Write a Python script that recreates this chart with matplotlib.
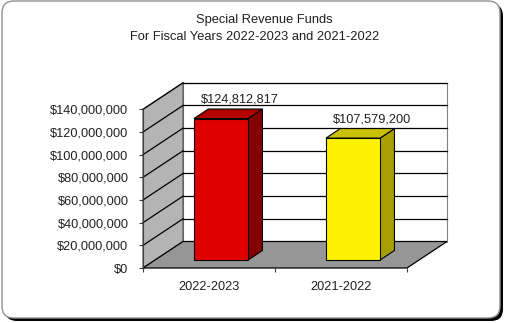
import numpy as np
import matplotlib
matplotlib.use("Agg")
import matplotlib.pyplot as plt
from matplotlib.patches import Polygon, FancyBboxPatch

plt.rcParams['font.family'] = ['Liberation Sans', 'DejaVu Sans']

# data
years = ["2022-2023", "2021-2022"]
revenue = [124812817, 107579200]
yticks = np.arange(0, 140000001, 20000000)
front_cols = ["#e00000", "#fff200"]
top_cols = ["#b00000", "#c8c000"]
side_cols = ["#840000", "#a8a000"]

W, H = 506, 323
fig = plt.figure(figsize=(W / 100, H / 100), dpi=100)

# rounded frame with shadow
bg = fig.add_axes([0, 0, 1, 1])
bg.set_xlim(0, W)
bg.set_ylim(H, 0)
bg.axis("off")
bg.add_patch(FancyBboxPatch((5, 4), 498, 317, boxstyle="round,pad=0,rounding_size=12",
                            fc="black", ec="none"))
bg.add_patch(FancyBboxPatch((2, 1), 498, 317, boxstyle="round,pad=0,rounding_size=12",
                            fc="white", ec="#909090", lw=1))

fig.text(264.5 / W, 1 - 20 / H, "Special Revenue Funds", ha="center", va="center",
         fontsize=9.3, color="#202020")
fig.text(254.7 / W, 1 - 37 / H, "For Fiscal Years 2022-2023 and 2021-2022", ha="center",
         va="center", fontsize=9.3, color="#202020")

# front plane of the pseudo 3d box
ax = fig.add_axes([143 / W, 1 - 268 / H, 264 / W, 158.7 / H])
ax.set_xlim(0, 2)
ax.set_ylim(0, yticks[-1])
ax.patch.set_visible(False)
ymax = yticks[-1]
DX = 40 / 132            # full depth shift, x units
DY = ymax * 26.5 / 158.7  # full depth shift, y units


def poly(pts, **kw):
    ax.add_patch(Polygon(pts, closed=True, clip_on=False, **kw))


# walls and floor
poly([(DX, DY), (2 + DX, DY), (2 + DX, ymax + DY), (DX, ymax + DY)],
     fc="white", ec="#808080", lw=0.8, zorder=1)
poly([(0, 0), (0, ymax), (DX, ymax + DY), (DX, DY)], fc="#b4b4b4", ec="#505050",
     lw=0.8, zorder=1)
for v in yticks[1:]:
    ax.plot([DX, 2 + DX], [v + DY, v + DY], color="black", lw=0.9, clip_on=False, zorder=2)
    ax.plot([0, DX], [v, v + DY], color="black", lw=0.9, clip_on=False, zorder=2)
poly([(0, 0), (2, 0), (2 + DX, DY), (DX, DY)], fc="#969696", ec="black", lw=0.9, zorder=2)

# bars
w = 0.41
d0, dd = 0.3, 0.36
for i, v in enumerate(revenue):
    c = i + 0.5
    x0 = c - w / 2 + d0 * DX
    x1 = c + w / 2 + d0 * DX
    y0 = d0 * DY
    y1 = v + d0 * DY
    ox, oy = dd * DX, dd * DY
    poly([(x1, y0), (x1, y1), (x1 + ox, y1 + oy), (x1 + ox, y0 + oy)],
         fc=side_cols[i], ec="black", lw=0.8, zorder=3)
    poly([(x0, y1), (x1, y1), (x1 + ox, y1 + oy), (x0 + ox, y1 + oy)],
         fc=top_cols[i], ec="black", lw=0.8, zorder=3)
    poly([(x0, y0), (x1, y0), (x1, y1), (x0, y1)],
         fc=front_cols[i], ec="black", lw=0.8, zorder=4)
    ax.text(c + 0.78 * DX, v + 0.78 * DY, "${:,.0f}".format(v), ha="center",
            va="bottom", fontsize=9.2, color="#202020", zorder=5)

for s in ["top", "right", "bottom"]:
    ax.spines[s].set_visible(False)
ax.spines["left"].set_color("#404040")
ax.spines["left"].set_zorder(2)

ax.set_yticks(yticks)
ax.set_yticklabels(["${:,.0f}".format(t) for t in yticks])
ax.tick_params(axis="y", length=3, width=0.8, pad=7.5, color="#404040",
               labelsize=9.2, labelcolor="#202020")
ax.set_xticks([0.5, 1.5])
ax.set_xticklabels(years)
ax.set_xticks([0, 1, 2], minor=True)
ax.tick_params(axis="x", which="major", length=0, pad=9, labelsize=9.2,
               labelcolor="#202020")
ax.tick_params(axis="x", which="minor", length=3, width=0.8, color="#404040")

fig.savefig("out.png", dpi=100)
